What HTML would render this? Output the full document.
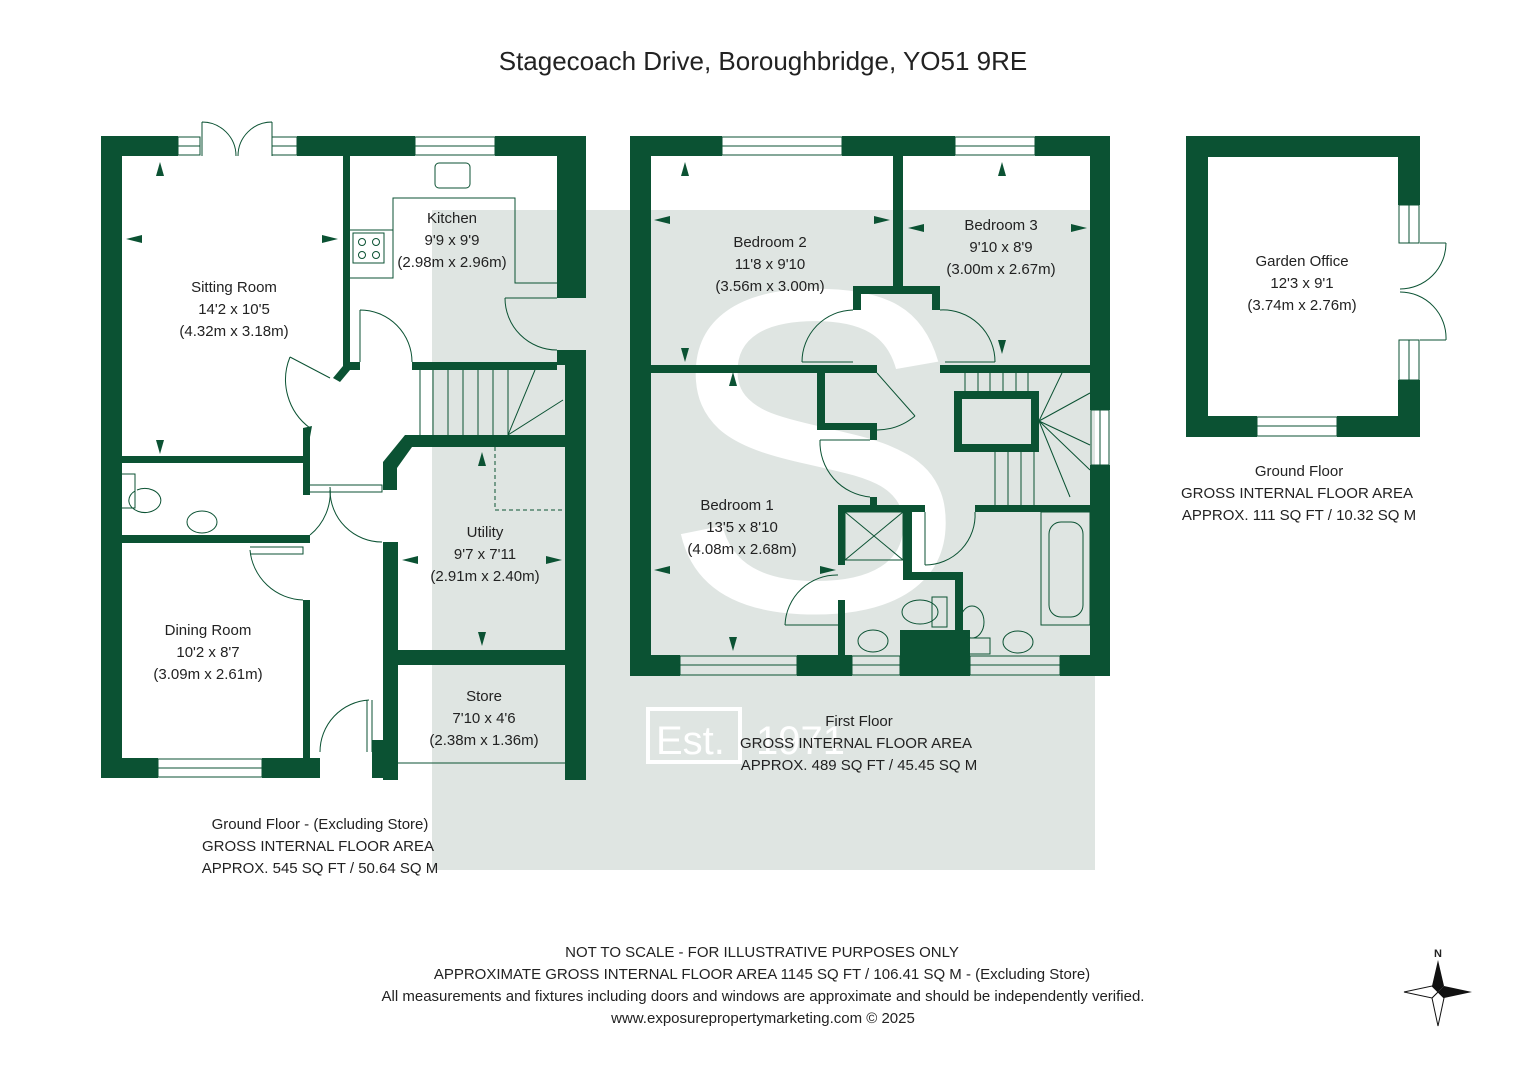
<!DOCTYPE html>
<html><head><meta charset="utf-8"><style>
html,body{margin:0;padding:0;background:#fff}
svg{display:block}
text{font-family:"Liberation Sans",sans-serif;fill:#222}
</style></head><body>
<svg width="1527" height="1080" viewBox="0 0 1527 1080" xmlns="http://www.w3.org/2000/svg">
<rect width="1527" height="1080" fill="#fff"/>
<!-- watermark -->
<rect x="432" y="210" width="663" height="660" fill="#dfe5e2"/>
<text x="660" y="610" font-size="460" fill="#fff" style="fill:#fff" font-family="Liberation Serif">S</text>
<rect x="648" y="709" width="92" height="53" fill="none" stroke="#fff" stroke-width="4"/>
<text x="656" y="754" font-size="40" style="fill:#fff">Est.</text>
<text x="756" y="754" font-size="40" style="fill:#fff">1971</text>

<text x="763" y="70" font-size="26" text-anchor="middle">Stagecoach Drive, Boroughbridge, YO51 9RE</text>

<g fill="#0b5233">
<!-- GROUND FLOOR -->
<rect x="101" y="136" width="21" height="642"/>
<rect x="101" y="136" width="77" height="20"/>
<rect x="297" y="136" width="118" height="20"/>
<rect x="495" y="136" width="91" height="20"/>
<rect x="557" y="136" width="29" height="162"/>
<rect x="557" y="350" width="29" height="15"/>
<rect x="565" y="350" width="21" height="430"/>
<rect x="343" y="156" width="7" height="210"/>
<rect x="343" y="362" width="17" height="8"/>
<polygon points="343,366 350,370 340,382 333,378"/>
<rect x="412" y="362" width="145" height="8"/>
<polygon points="405,435 565,435 565,447 412,447 397,468 397,490 383,490 383,462"/>
<polygon points="303,428 312,426 310,437 310,495 303,495"/>
<rect x="122" y="456" width="181" height="7"/>
<rect x="122" y="535" width="188" height="8"/>
<rect x="303" y="600" width="7" height="160"/>
<rect x="101" y="758" width="57" height="20"/>
<rect x="262" y="758" width="58" height="20"/>
<rect x="383" y="542" width="15" height="238"/>
<rect x="372" y="740" width="12" height="38"/>
<rect x="398" y="650" width="167" height="15"/>
<!-- FIRST FLOOR -->
<rect x="630" y="136" width="21" height="540"/>
<rect x="630" y="136" width="92" height="20"/>
<rect x="842" y="136" width="113" height="20"/>
<rect x="1035" y="136" width="75" height="20"/>
<rect x="1090" y="136" width="20" height="274"/>
<rect x="1090" y="465" width="20" height="211"/>
<rect x="630" y="655" width="50" height="21"/>
<rect x="797" y="655" width="55" height="21"/>
<rect x="900" y="630" width="70" height="46"/>
<rect x="1060" y="655" width="50" height="21"/>
<rect x="893" y="156" width="10" height="134"/>
<polygon points="853,286 940,286 940,310 932,310 932,294 861,294 861,310 853,310"/>
<rect x="651" y="365" width="226" height="8"/>
<rect x="940" y="365" width="150" height="8"/>
<rect x="817" y="373" width="8" height="57"/>
<rect x="817" y="423" width="60" height="7"/>
<rect x="870" y="423" width="7" height="17"/>
<rect x="870" y="497" width="7" height="15"/>
<rect x="838" y="505" width="87" height="7"/>
<rect x="975" y="505" width="115" height="7"/>
<rect x="838" y="505" width="7" height="60"/>
<rect x="838" y="600" width="7" height="56"/>
<rect x="903" y="505" width="9" height="75"/>
<rect x="903" y="572" width="60" height="8"/>
<rect x="955" y="572" width="8" height="84"/>
<!-- GARDEN OFFICE -->
<rect x="1186" y="136" width="234" height="21"/>
<rect x="1186" y="136" width="22" height="301"/>
<rect x="1186" y="416" width="71" height="21"/>
<rect x="1337" y="416" width="83" height="21"/>
<rect x="1398" y="136" width="22" height="69"/>
<rect x="1398" y="380" width="22" height="57"/>
</g>

<!-- thin lines: windows, doors, stairs, fixtures -->
<g fill="none" stroke="#0b5233" stroke-width="1">
<rect x="178" y="137" width="22" height="18"/><line x1="178" y1="146" x2="200" y2="146"/>
<rect x="272" y="137" width="25" height="18"/><line x1="272" y1="146" x2="297" y2="146"/>
<rect x="415" y="137" width="80" height="18"/><line x1="415" y1="146" x2="495" y2="146"/>
<path d="M202,122 L202,156 M272,122 L272,156 M202,122 A34,34 0 0 1 236,156 M272,122 A34,34 0 0 0 238,156"/>
<rect x="158" y="759" width="104" height="18"/><line x1="158" y1="768" x2="262" y2="768"/>
<rect x="435" y="163" width="35" height="25" rx="4"/>
<path d="M350,230 H393 V198 H515 V283 H557 M350,278 H393 V230"/>
<rect x="353" y="233" width="31" height="30"/>
<circle cx="362" cy="242" r="3.5"/><circle cx="376" cy="242" r="3.5"/><circle cx="362" cy="255" r="3.5"/><circle cx="376" cy="255" r="3.5"/>
<path d="M505,298 H557 M505,298 A52,52 0 0 0 557,350"/>
<path d="M360,310 V362 M360,310 A52,52 0 0 1 412,362"/>
<path d="M290,357 L330,378 M290,357 A60,60 0 0 0 310,428"/>
<path d="M420,370 V435 M433,370 V435 M448,370 V435 M463,370 V435 M478,370 V435 M493,370 V435 M508,370 V435 M508,435 L535,370 M508,435 L563,400"/>
<path d="M495,447 V510 H563" stroke-dasharray="4,3"/>
<path d="M310,485 H382 V492 H310 M330,490 V492 M330,490 A52,52 0 0 0 382,542 M330,490 V492"/>
<path d="M330,487 A55,55 0 0 1 310,535"/>
<path d="M122,474 H135 V508 H122 M135,491 A16,12 0 1 0 137,490"/>
<ellipse cx="202" cy="522" rx="15" ry="11"/>
<path d="M250,547 H303 V554 H250 M250,550 A55,55 0 0 0 303,600"/>
<path d="M372,700 V752 M367,700 V752 M369,700 A52,52 0 0 0 320,752"/>
<line x1="398" y1="763" x2="565" y2="763"/>
<!-- first floor -->
<rect x="722" y="137" width="120" height="18"/><line x1="722" y1="146" x2="842" y2="146"/>
<rect x="955" y="137" width="80" height="18"/><line x1="955" y1="146" x2="1035" y2="146"/>
<rect x="680" y="656" width="117" height="19"/><line x1="680" y1="665" x2="797" y2="665"/>
<rect x="852" y="656" width="48" height="19"/><line x1="852" y1="665" x2="900" y2="665"/>
<rect x="970" y="656" width="90" height="19"/><line x1="970" y1="665" x2="1060" y2="665"/>
<rect x="1091" y="410" width="18" height="55"/><line x1="1100" y1="410" x2="1100" y2="465"/>
<path d="M802,362 H853 M802,362 A52,52 0 0 1 853,310"/>
<path d="M945,362 H995 M995,362 A52,52 0 0 0 940,310"/>
<path d="M877,373 L915,416 M915,416 A60,60 0 0 1 877,430"/>
<path d="M820,440 H870 M820,440 A55,55 0 0 0 870,497"/>
<path d="M925,512 V565 M925,565 A50,50 0 0 0 975,512"/>
<path d="M785,625 H838 M785,625 A52,52 0 0 1 838,575"/>
<rect x="845" y="512" width="58" height="48"/><path d="M845,512 L903,560 M903,512 L845,560"/>
<ellipse cx="920" cy="612" rx="18" ry="12"/><rect x="932" y="597" width="15" height="30"/>
<ellipse cx="873" cy="641" rx="15" ry="11"/>
<rect x="960" y="638" width="30" height="16"/><ellipse cx="972" cy="622" rx="12" ry="16"/>
<ellipse cx="1018" cy="642" rx="15" ry="11"/>
<rect x="1041" y="512" width="49" height="113"/><rect x="1049" y="522" width="34" height="95" rx="12"/>
<rect x="958" y="395" width="77" height="53" stroke-width="8" stroke="#0b5233"/>
<path d="M965,373 V395 M978,373 V395 M990,373 V395 M1003,373 V395 M1016,373 V395 M1028,373 V395 M1039,421 L1062,373 M1039,421 L1090,393 M1039,421 L1090,445 M1039,421 L1070,497 M995,448 V505 M1008,448 V505 M1021,448 V505 M1034,448 V505 M1039,421 L1090,470"/>
<!-- garden office -->
<rect x="1257" y="417" width="80" height="19"/><line x1="1257" y1="426" x2="1337" y2="426"/>
<rect x="1399" y="205" width="20" height="38"/><line x1="1409" y1="205" x2="1409" y2="243"/>
<rect x="1399" y="340" width="20" height="40"/><line x1="1409" y1="340" x2="1409" y2="380"/>
<path d="M1446,243 L1420,243 M1446,243 A46,46 0 0 1 1400,289 M1446,340 L1420,340 M1446,340 A46,46 0 0 0 1400,292"/>
</g>

<!-- dimension arrows -->
<g fill="#0b5233">
<polygon points="156,176 164,176 160,162"/><polygon points="156,440 164,440 160,454"/>
<polygon points="126,239 142,235 142,243"/><polygon points="338,239 322,235 322,243"/>
<polygon points="478,466 486,466 482,452"/><polygon points="478,632 486,632 482,646"/>
<polygon points="402,560 418,556 418,564"/><polygon points="562,560 546,556 546,564"/>
<polygon points="681,176 689,176 685,162"/><polygon points="681,348 689,348 685,362"/>
<polygon points="654,220 670,216 670,224"/><polygon points="890,220 874,216 874,224"/>
<polygon points="998,176 1006,176 1002,162"/><polygon points="998,340 1006,340 1002,354"/>
<polygon points="908,228 924,224 924,232"/><polygon points="1087,228 1071,224 1071,232"/>
<polygon points="729,386 737,386 733,372"/><polygon points="729,637 737,637 733,651"/>
<polygon points="654,570 670,566 670,574"/><polygon points="836,570 820,566 820,574"/>
</g>

<g font-size="15" text-anchor="middle">
<text x="234" y="292">Sitting Room</text><text x="234" y="314">14'2 x 10'5</text><text x="234" y="336">(4.32m x 3.18m)</text>
<text x="452" y="223">Kitchen</text><text x="452" y="245">9'9 x 9'9</text><text x="452" y="267">(2.98m x 2.96m)</text>
<text x="485" y="537">Utility</text><text x="485" y="559">9'7 x 7'11</text><text x="485" y="581">(2.91m x 2.40m)</text>
<text x="208" y="635">Dining Room</text><text x="208" y="657">10'2 x 8'7</text><text x="208" y="679">(3.09m x 2.61m)</text>
<text x="484" y="701">Store</text><text x="484" y="723">7'10 x 4'6</text><text x="484" y="745">(2.38m x 1.36m)</text>
<text x="770" y="247">Bedroom 2</text><text x="770" y="269">11'8 x 9'10</text><text x="770" y="291">(3.56m x 3.00m)</text>
<text x="1001" y="230">Bedroom 3</text><text x="1001" y="252">9'10 x 8'9</text><text x="1001" y="274">(3.00m x 2.67m)</text>
<text x="737" y="510">Bedroom 1</text><text x="742" y="532">13'5 x 8'10</text><text x="742" y="554">(4.08m x 2.68m)</text>
<text x="1302" y="266">Garden Office</text><text x="1302" y="288">12'3 x 9'1</text><text x="1302" y="310">(3.74m x 2.76m)</text>
<text x="320" y="829">Ground Floor - (Excluding Store)</text><text x="318" y="851">GROSS INTERNAL FLOOR AREA</text><text x="320" y="873">APPROX. 545 SQ FT / 50.64 SQ M</text>
<text x="859" y="726">First Floor</text><text x="856" y="748">GROSS INTERNAL FLOOR AREA</text><text x="859" y="770">APPROX. 489 SQ FT / 45.45 SQ M</text>
<text x="1299" y="476">Ground Floor</text><text x="1297" y="498">GROSS INTERNAL FLOOR AREA</text><text x="1299" y="520">APPROX. 111 SQ FT / 10.32 SQ M</text>
<text x="762" y="957">NOT TO SCALE - FOR ILLUSTRATIVE PURPOSES ONLY</text>
<text x="762" y="979">APPROXIMATE GROSS INTERNAL FLOOR AREA 1145 SQ FT / 106.41 SQ M - (Excluding Store)</text>
<text x="763" y="1001">All measurements and fixtures including doors and windows are approximate and should be independently verified.</text>
<text x="763" y="1023">www.exposurepropertymarketing.com © 2025</text>
</g>

<!-- compass -->
<g>
<text x="1438" y="957" font-size="11" text-anchor="middle" font-weight="bold">N</text>
<polygon points="1438,960 1444,986 1438,992 1432,986" fill="#111"/>
<polygon points="1438,1026 1444,998 1438,992 1432,998" fill="#fff" stroke="#111"/>
<polygon points="1404,992 1432,986 1438,992 1432,998" fill="#fff" stroke="#111"/>
<polygon points="1472,992 1444,986 1438,992 1444,998" fill="#111"/>
</g>
</svg>
</body></html>
